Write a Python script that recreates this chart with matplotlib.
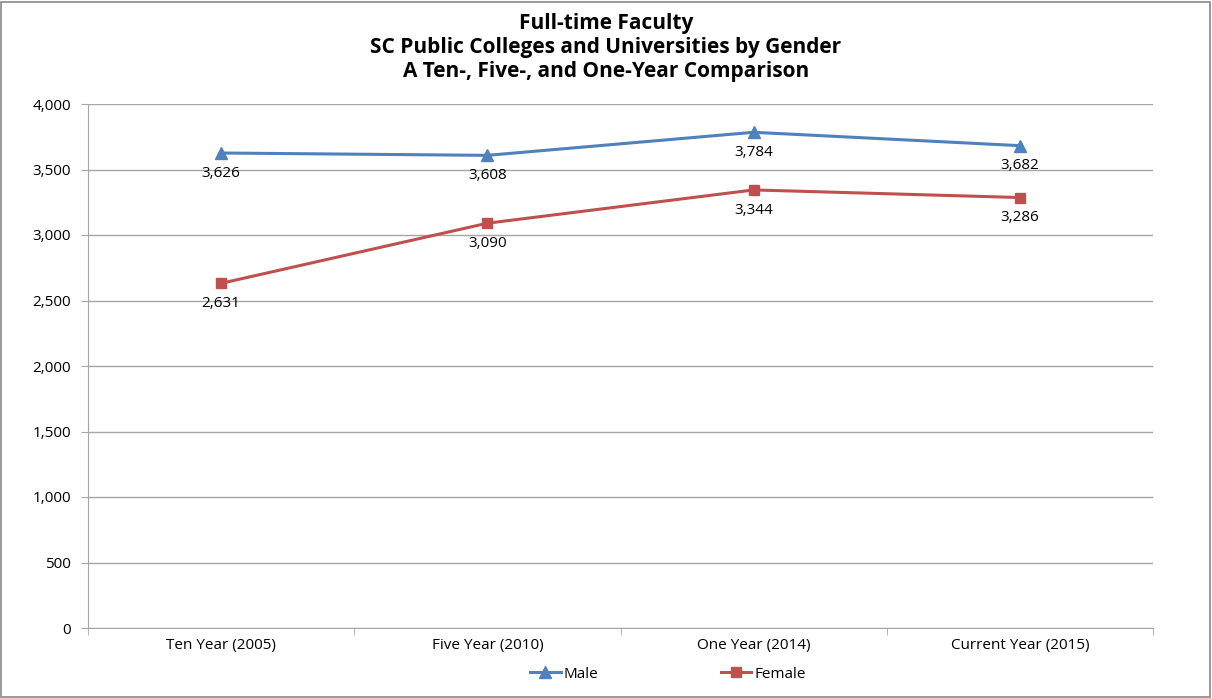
import matplotlib
matplotlib.use("Agg")
import matplotlib.pyplot as plt
from matplotlib.patches import Rectangle

plt.rcParams['font.family'] = ['Open Sans', 'DejaVu Sans']

# data
categories = ["Ten Year (2005)", "Five Year (2010)", "One Year (2014)", "Current Year (2015)"]
male = [3626, 3608, 3784, 3682]
female = [2631, 3090, 3344, 3286]
yticks = [0, 500, 1000, 1500, 2000, 2500, 3000, 3500, 4000]

blue = "#4F81BD"
red = "#C0504D"
grid_c = "#A6A6A6"

fig = plt.figure(figsize=(12.12, 6.98), dpi=100)
ax = fig.add_axes([88/1212, 1-628/698, (1153-88)/1212, (628-104)/698])

x = list(range(len(categories)))
ax.plot(x, male, color=blue, lw=2.2, marker="^", ms=8, label="Male", zorder=3)
ax.plot(x, female, color=red, lw=2.2, marker="s", ms=7, label="Female", zorder=3)

for xi, v in zip(x, male):
    ax.annotate(f"{v:,}", (xi, v), xytext=(0, -14.5), textcoords="offset points",
                ha="center", va="center", fontsize=11)
for xi, v in zip(x, female):
    ax.annotate(f"{v:,}", (xi, v), xytext=(0, -14.5), textcoords="offset points",
                ha="center", va="center", fontsize=11)

ax.set_xlim(-0.5, len(categories) - 0.5)
ax.set_ylim(0, 4000)
ax.set_yticks(yticks)
ax.set_yticklabels([f"{t:,}" for t in yticks], fontsize=11)
ax.yaxis.grid(True, color=grid_c, lw=1)
ax.set_axisbelow(True)

# category labels at centers, tick marks at boundaries
ax.set_xticks(x)
ax.set_xticklabels(categories, fontsize=11)
ax.tick_params(axis="x", length=0, pad=7)
ax.set_xticks([i - 0.5 for i in range(len(categories) + 1)], minor=True)
ax.tick_params(axis="x", which="minor", length=5, color=grid_c, direction="out")
ax.tick_params(axis="y", length=5, color=grid_c, pad=7)

for s in ["top", "right"]:
    ax.spines[s].set_visible(False)
for s in ["left", "bottom"]:
    ax.spines[s].set_color(grid_c)

title_lines = ["Full-time Faculty",
               "SC Public Colleges and Universities by Gender",
               "A Ten-, Five-, and One-Year Comparison"]
for yy, line in zip([24, 48, 72], title_lines):
    fig.text(0.5, 1-yy/698, line, ha="center", va="center",
             fontsize=15, fontweight="bold")

fig.legend(loc="center", bbox_to_anchor=(0.551, 1-674/698), ncol=2, frameon=False,
           fontsize=11, handlelength=2.0, columnspacing=8, handletextpad=0.2)

fig.patches.append(Rectangle((1/1212, 1/698), 1-3/1212, 1-3/698, transform=fig.transFigure,
                             fill=False, edgecolor="#888888", lw=1.2))

fig.savefig("out.png", dpi=100)
